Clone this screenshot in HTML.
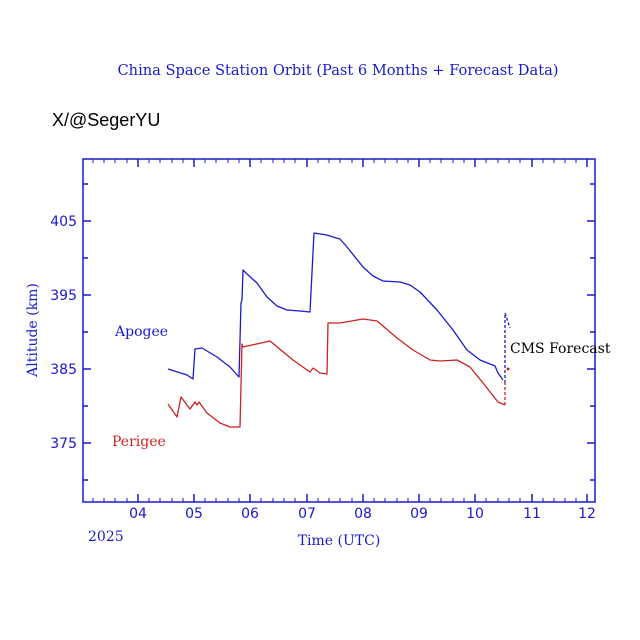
<!DOCTYPE html>
<html><head><style>body{margin:0;background:#fff}svg{display:block}</style></head><body>
<svg width="640" height="640" xmlns="http://www.w3.org/2000/svg" font-family="DejaVu Serif, serif">
<text x="338" y="75" text-anchor="middle" fill="#1a1acc" font-size="14.6">China Space Station Orbit (Past 6 Months + Forecast Data)</text>
<text x="52" y="126" fill="#000" font-size="18" font-family="Liberation Sans, sans-serif">X/@SegerYU</text>
<g stroke="#1a1acc" stroke-width="1.5" fill="none">
<rect x="83" y="159" width="512" height="343"/>
<path d="M138,502v-8M194,502v-8M250,502v-8M307,502v-8M363,502v-8M419,502v-8M475,502v-8M532,502v-8M587,502v-8
M138,159v8M194,159v8M250,159v8M307,159v8M363,159v8M419,159v8M475,159v8M532,159v8M587,159v8
M83,221h8M83,295h8M83,369h8M83,443h8M83,184h5M83,258h5M83,332h5M83,406h5M83,480h5
M595,221h-8M595,295h-8M595,369h-8M595,443h-8M595,184h-5M595,258h-5M595,332h-5M595,406h-5M595,480h-5"/>
<path stroke-width="1" d="M93,502v-4M104,502v-4M115,502v-4M127,502v-4M149,502v-4M160,502v-4M172,502v-4M183,502v-4M205,502v-4M216,502v-4M228,502v-4M239,502v-4M261,502v-4M273,502v-4M284,502v-4M295,502v-4M318,502v-4M329,502v-4M340,502v-4M352,502v-4M374,502v-4M385,502v-4M397,502v-4M408,502v-4M430,502v-4M441,502v-4M453,502v-4M464,502v-4M486,502v-4M498,502v-4M509,502v-4M520,502v-4M543,502v-4M554,502v-4M565,502v-4M576,502v-4
M93,159v4M104,159v4M115,159v4M127,159v4M149,159v4M160,159v4M172,159v4M183,159v4M205,159v4M216,159v4M228,159v4M239,159v4M261,159v4M273,159v4M284,159v4M295,159v4M318,159v4M329,159v4M340,159v4M352,159v4M374,159v4M385,159v4M397,159v4M408,159v4M430,159v4M441,159v4M453,159v4M464,159v4M486,159v4M498,159v4M509,159v4M520,159v4M543,159v4M554,159v4M565,159v4M576,159v4"/>
</g>
<g fill="#1a1acc" font-size="14" font-family="DejaVu Sans, sans-serif">
<text x="77" y="226" text-anchor="end">405</text>
<text x="77" y="300" text-anchor="end">395</text>
<text x="77" y="374" text-anchor="end">385</text>
<text x="77" y="448" text-anchor="end">375</text>
<g text-anchor="middle">
<text x="138" y="518">04</text><text x="194" y="518">05</text><text x="250" y="518">06</text><text x="307" y="518">07</text><text x="363" y="518">08</text><text x="419" y="518">09</text><text x="475" y="518">10</text><text x="532" y="518">11</text><text x="587" y="518">12</text>
</g>
</g>
<text x="88" y="541" fill="#1a1acc" font-size="14">2025</text>
<text x="339" y="545" text-anchor="middle" fill="#1a1acc" font-size="14">Time (UTC)</text>
<text transform="translate(37,330) rotate(-90)" text-anchor="middle" fill="#1a1acc" font-size="14">Altitude (km)</text>
<text x="115" y="336" fill="#1a1acc" font-size="14">Apogee</text>
<text x="112" y="446" fill="#cc2222" font-size="14">Perigee</text>
<text x="510" y="353" fill="#000" font-size="14">CMS Forecast</text>
<g fill="none" stroke-width="1.3" stroke-linejoin="round">
<polyline stroke="#1a1acc" points="168,369 187,375 193,379 195,349 202,348 217,357 230,367 239,377 241,303 242,300 243,270 247,274 257,283 267,297 277,306 287,310 300,311 310,312 314,233 327,235 333,237 340,239 347,247 363,267 373,276 383,281 400,282 410,285 420,292 437,310 453,330 467,350 480,360 495,366 498,373 503,380"/>
<polyline stroke="#1a1acc" stroke-dasharray="3,2" points="505,383 505,313 510,328"/>
<polyline stroke="#cc2222" points="168,404 177,417 181,397 190,409 195,402 197,405 199,402 207,413 220,423 230,427 240,427 242,344 243,347 270,341 293,360 310,372 313,368 320,373 327,374 328,323 340,323 363,319 377,321 397,338 413,350 430,360 440,361 457,360 470,367 483,383 498,402 505,405"/>
<polyline stroke="#cc2222" stroke-dasharray="3,2" points="505,405 505,380"/>
<circle cx="508" cy="369" r="1.5" fill="#cc2222" stroke="none"/>
</g>
</svg>
</body></html>
